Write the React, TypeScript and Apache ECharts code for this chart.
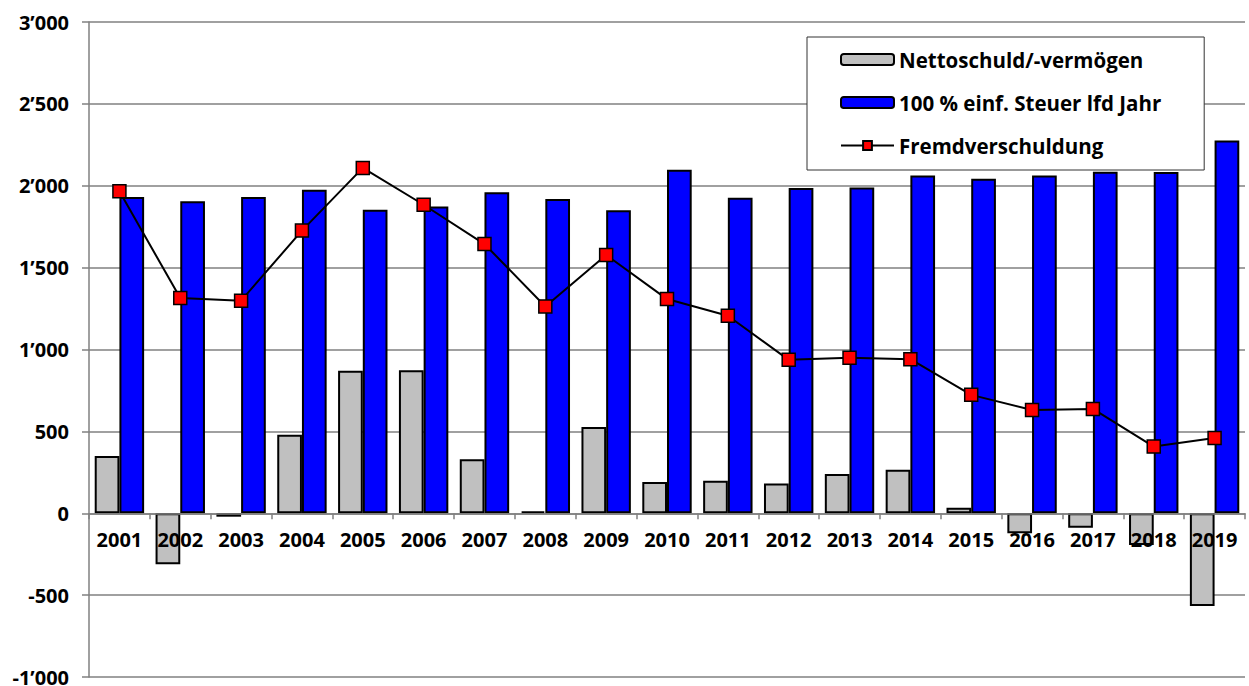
import React, { useEffect, useRef } from "react";
import * as echarts from "echarts";

const years = ["2001", "2002", "2003", "2004", "2005", "2006", "2007", "2008", "2009", "2010", "2011", "2012", "2013", "2014", "2015", "2016", "2017", "2018", "2019"];
const netto = [350, -312, -21, 479, 870, 874, 330, 12, 526, 191, 199, 181, 240, 265, 34, -122, -88, -194, -567];
const steuer = [1931, 1905, 1931, 1976, 1854, 1874, 1960, 1919, 1850, 2098, 1927, 1987, 1990, 2062, 2042, 2062, 2086, 2084, 2276];
const fremd = [1966, 1314, 1298, 1726, 2109, 1884, 1644, 1263, 1577, 1308, 1206, 937, 949, 941, 723, 631, 637, 407, 460];
const seriesNames = ["Nettoschuld/-vermögen", "100 % einf. Steuer lfd Jahr", "Fremdverschuldung"];

const FONT = "'Open Sans', 'DejaVu Sans', sans-serif";

function fmt(v: number): string {
  const neg = v < 0;
  const a = Math.abs(v);
  const s = a >= 1000 ? Math.floor(a / 1000) + "\u2019" + String(a % 1000).padStart(3, "0") : String(a);
  return (neg ? "-" : "") + s;
}

export default function App() {
  const ref = useRef<HTMLDivElement>(null);
  useEffect(() => {
    if (!ref.current) return;
    const chart = echarts.init(ref.current, null, { renderer: "svg" });
    chart.setOption({
      animation: false,
      backgroundColor: "#ffffff",
      grid: { left: 89, right: 4, top: 22, bottom: 9, containLabel: false, outerBoundsMode: "none" },
      legend: {
        orient: "vertical",
        left: 807,
        top: 37,
        padding: [12, 43, 14, 33],
        itemGap: 22,
        itemWidth: 53,
        itemHeight: 11,
        backgroundColor: "#ffffff",
        borderColor: "#333333",
        borderWidth: 1,
        borderRadius: 0,
        data: seriesNames,
        textStyle: { fontFamily: FONT, fontWeight: "bold", fontSize: 20.5, color: "#000", lineHeight: 20 },
      },
      xAxis: {
        type: "category",
        data: years,
        offset: -163.75,
        axisLine: { onZero: false, lineStyle: { color: "#808080", width: 1.5 } },
        axisTick: { show: true, inside: false, length: 6, lineStyle: { color: "#808080", width: 1.5 } },
        axisLabel: { fontFamily: FONT, fontWeight: "bold", fontSize: 20, color: "#000", margin: 17, lineHeight: 18 },
        z: 10,
      },
      yAxis: {
        type: "value",
        min: -1000,
        max: 3000,
        interval: 500,
        axisLine: { show: true, lineStyle: { color: "#808080", width: 1.5 } },
        axisTick: { show: true, length: 7, lineStyle: { color: "#808080", width: 1.5 } },
        splitLine: { show: true, lineStyle: { color: "#808080", width: 1.5 } },
        axisLabel: {
          fontFamily: FONT, fontWeight: "bold", fontSize: 20, color: "#000", margin: 20, lineHeight: 14,
          formatter: (v: number) => fmt(v),
        },
      },
      series: [
        {
          name: seriesNames[0],
          type: "bar",
          data: netto,
          barWidth: 24.7,
          barGap: "0%",
          itemStyle: { color: "#C0C0C0", borderColor: "#000", borderWidth: 2 },
          z: 2,
        },
        {
          name: seriesNames[1],
          type: "bar",
          data: steuer,
          barWidth: 24.7,
          barGap: "0%",
          itemStyle: { color: "#0000FF", borderColor: "#000", borderWidth: 2 },
          z: 2,
        },
        {
          name: seriesNames[2],
          type: "line",
          data: fremd,
          symbol: "rect",
          symbolSize: 13,
          lineStyle: { color: "#000", width: 2 },
          itemStyle: { color: "#FF0000", borderColor: "#000", borderWidth: 1.5 },
          z: 5,
        },
      ],
    });
    return () => chart.dispose();
  }, []);
  return <div ref={ref} style={{ position: "fixed", left: 0, top: 0, width: 1249, height: 686 }} />;
}
